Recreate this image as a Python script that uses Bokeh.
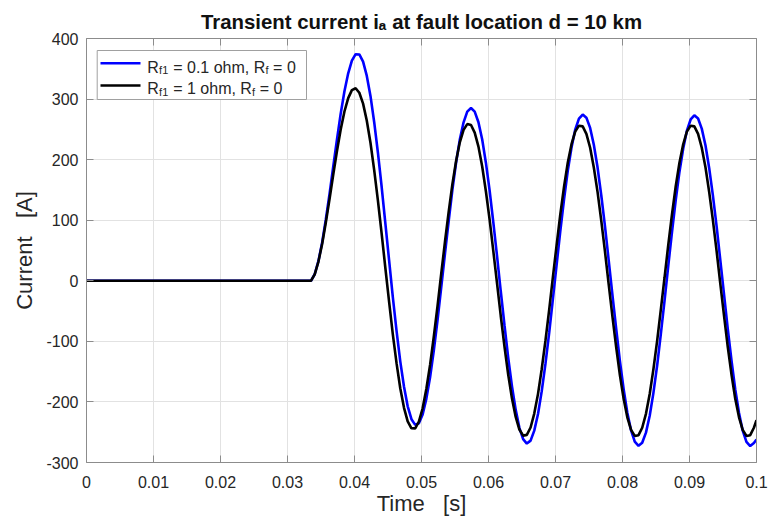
from bokeh.plotting import figure
from bokeh.models import LinearAxis, FixedTicker, Label, BoxAnnotation, Range1d
from bokeh.embed import file_html
from bokeh.resources import INLINE

# ---------------- data ----------------
time_s = [0.0,
    0.03350, 0.03406, 0.03461, 0.03517, 0.03572, 0.03628, 0.03683, 0.03739, 0.03794,
    0.03850, 0.03906, 0.03961, 0.04017, 0.04072, 0.04128, 0.04183, 0.04239, 0.04294,
    0.04350, 0.04406, 0.04461, 0.04517, 0.04572, 0.04628, 0.04683, 0.04739, 0.04794,
    0.04850, 0.04906, 0.04961, 0.05017, 0.05072, 0.05128, 0.05183, 0.05239, 0.05294,
    0.05350, 0.05406, 0.05461, 0.05517, 0.05572, 0.05628, 0.05683, 0.05739, 0.05794,
    0.05850, 0.05906, 0.05961, 0.06017, 0.06072, 0.06128, 0.06183, 0.06239, 0.06294,
    0.06350, 0.06406, 0.06461, 0.06517, 0.06572, 0.06628, 0.06683, 0.06739, 0.06794,
    0.06850, 0.06906, 0.06961, 0.07017, 0.07072, 0.07128, 0.07183, 0.07239, 0.07294,
    0.07350, 0.07406, 0.07461, 0.07517, 0.07572, 0.07628, 0.07683, 0.07739, 0.07794,
    0.07850, 0.07906, 0.07961, 0.08017, 0.08072, 0.08128, 0.08183, 0.08239, 0.08294,
    0.08350, 0.08406, 0.08461, 0.08517, 0.08572, 0.08628, 0.08683, 0.08739, 0.08794,
    0.08850, 0.08906, 0.08961, 0.09017, 0.09072, 0.09128, 0.09183, 0.09239, 0.09294,
    0.09350, 0.09406, 0.09461, 0.09517, 0.09572, 0.09628, 0.09683, 0.09739, 0.09794,
    0.09850, 0.09906, 0.09961,
    0.1]

# R_f1 = 0.1 ohm, R_f = 0  (blue)
current_rf01 = [0.0,
    0.0, 10.8, 32.4, 63.2, 101.2, 143.9, 189.0, 233.8, 275.9, 312.9,
    342.6, 363.5, 374.1, 373.7, 361.7, 338.6, 304.8, 261.8, 211.0, 154.4,
    94.3, 33.1, -26.8, -83.0, -133.0, -175.0, -207.2, -228.5, -237.9, -235.2,
    -220.6, -194.9, -159.3, -115.5, -65.4, -11.4, 44.3, 98.9, 150.2, 195.7,
    233.4, 261.6, 279.2, 285.2, 279.3, 261.7, 233.2, 195.0, 148.8, 96.4,
    40.3, -17.3, -73.8, -126.8, -173.9, -213.1, -242.7, -261.5, -268.7, -263.9,
    -247.4, -219.9, -182.6, -137.2, -85.6, -30.2, 26.7, 82.6, 134.9, 181.5,
    220.1, 249.3, 267.7, 274.5, 269.3, 252.4, 224.5, 186.9, 141.2, 89.4,
    33.7, -23.5, -79.5, -132.1, -178.8, -217.7, -247.0, -265.6, -272.5, -267.4,
    -250.7, -222.9, -185.4, -139.9, -88.1, -32.5, 24.6, 80.6, 133.0, 179.7,
    218.5, 247.8, 266.3, 273.2, 268.0, 251.2, 223.4, 185.9, 140.3, 88.5,
    32.9, -24.2, -80.2, -132.7, -179.4, -218.2, -247.5, -266.0, -272.9, -267.8,
    -262.0]

# R_f1 = 1 ohm, R_f = 0  (black)
current_rf1 = [0.0,
    0.0, 10.5, 31.4, 60.7, 96.1, 135.2, 175.5, 214.5, 249.9, 279.5,
    301.6, 314.8, 317.8, 310.4, 292.5, 264.5, 227.4, 182.6, 131.9, 77.1,
    20.7, -35.3, -88.4, -136.4, -177.5, -209.8, -232.2, -243.5, -243.6, -232.4,
    -210.4, -178.7, -138.9, -92.5, -41.7, 11.2, 64.0, 114.2, 159.6, 198.3,
    228.6, 249.1, 258.7, 257.2, 244.7, 221.5, 188.7, 147.8, 100.6, 48.9,
    -4.7, -58.1, -108.9, -154.9, -194.1, -224.8, -245.6, -255.6, -254.4, -242.2,
    -219.2, -186.7, -146.0, -98.9, -47.5, 6.0, 59.3, 109.9, 155.8, 194.9,
    225.5, 246.2, 256.1, 254.9, 242.6, 219.6, 187.0, 146.3, 99.2, 47.7,
    -5.8, -59.1, -109.8, -155.7, -194.8, -225.4, -246.2, -256.1, -254.9, -242.6,
    -219.6, -187.0, -146.3, -99.2, -47.7, 5.8, 59.1, 109.8, 155.7, 194.8,
    225.4, 246.2, 256.1, 254.9, 242.6, 219.6, 187.0, 146.3, 99.2, 47.7,
    -5.8, -59.1, -109.8, -155.7, -194.8, -225.4, -246.2, -256.1, -254.9, -242.6,
    -230.0]

x_ticks = [0, 0.01, 0.02, 0.03, 0.04, 0.05, 0.06, 0.07, 0.08, 0.09, 0.1]
x_tick_labels = ["0", "0.01", "0.02", "0.03", "0.04", "0.05", "0.06", "0.07", "0.08", "0.09", "0.1"]
y_ticks = [-300, -200, -100, 0, 100, 200, 300, 400]
y_tick_labels = ["-300", "-200", "-100", "0", "100", "200", "300", "400"]

title_text = "Transient current i\u2090 at fault location d = 10 km"
x_label = "Time\u00a0\u00a0\u00a0[s]"
y_label = "Current\u00a0\u00a0\u00a0[A]"
legend_rows = [
    ["R", "f1", "= 0.1 ohm, R", "f", "= 0"],
    ["R", "f1", "= 1 ohm, R", "f", "= 0"],
]
series_colors = ["#0000ff", "#000000"]

# ---------------- layout helpers (page pixel -> data position) ----------------
W, H = 768, 519
X0, X1 = 0.0, 0.1
Y0, Y1 = -300.0, 400.0
FL, FR, FT, FB = 86.0, 756.0, 38.0, 462.0   # frame edges in page pixels


def X(px):
    return X0 + (px - FL) / (FR - FL) * (X1 - X0)


def Y(py):
    return Y1 - (py - FT) / (FB - FT) * (Y1 - Y0)


FONT = "Liberation Sans"
AX_COL = "#8c8c8c"
TXT_COL = "#262626"

p = figure(width=W, height=H, x_range=Range1d(X0, X1), y_range=Range1d(Y0, Y1),
           output_backend="svg", toolbar_location=None,
           min_border_left=int(FL), min_border_right=int(W - FR),
           min_border_top=int(FT), min_border_bottom=int(H - FB))
p.background_fill_color = "white"
p.border_fill_color = "white"
p.outline_line_color = None

p.title.text = title_text
p.title.text_font = FONT
p.title.text_font_size = "20.4px"
p.title.text_font_style = "bold"
p.title.text_color = "#111111"
p.title.align = "center"
p.title.standoff = 12


def style_axis(ax, show_labels):
    ax.axis_line_color = AX_COL
    ax.axis_line_width = 1
    ax.major_tick_line_color = AX_COL
    ax.major_tick_in = 7
    ax.major_tick_out = 0
    ax.minor_tick_in = 0
    ax.minor_tick_out = 0
    ax.minor_tick_line_color = None
    if show_labels:
        ax.major_label_text_font = FONT
        ax.major_label_text_font_size = "16px"
        ax.major_label_text_color = TXT_COL
        ax.axis_label_text_font = FONT
        ax.axis_label_text_font_size = "22px"
        ax.axis_label_text_font_style = "normal"
        ax.axis_label_text_color = TXT_COL
    else:
        ax.major_label_text_font_size = "0px"
        ax.major_label_standoff = 0


xax = p.xaxis[0]
xax.ticker = FixedTicker(ticks=x_ticks)
xax.major_label_overrides = dict(zip(x_ticks, x_tick_labels))
style_axis(xax, True)
xax.major_label_standoff = 13
xax.axis_label = x_label
xax.axis_label_standoff = 0

yax = p.yaxis[0]
yax.ticker = FixedTicker(ticks=y_ticks)
yax.major_label_overrides = dict(zip(y_ticks, y_tick_labels))
style_axis(yax, True)
yax.major_label_standoff = 8
yax.axis_label = y_label
yax.axis_label_standoff = 6

top_ax = LinearAxis(ticker=FixedTicker(ticks=x_ticks),
                    major_label_overrides={t: "" for t in x_ticks})
style_axis(top_ax, False)
p.add_layout(top_ax, "above")

right_ax = LinearAxis(ticker=FixedTicker(ticks=y_ticks),
                      major_label_overrides={t: "" for t in y_ticks})
style_axis(right_ax, False)
p.add_layout(right_ax, "right")

p.xgrid.ticker = FixedTicker(ticks=x_ticks)
p.ygrid.ticker = FixedTicker(ticks=y_ticks)
for g in (p.xgrid, p.ygrid):
    g.grid_line_color = "#e2e2e2"
    g.grid_line_width = 1

# ---------------- data lines ----------------
p.line(time_s, current_rf01, line_color=series_colors[0], line_width=2.6)
p.line(time_s, current_rf1, line_color=series_colors[1], line_width=2.6)

# ---------------- legend (inside the frame) ----------------
p.add_layout(BoxAnnotation(left=X(96.7), right=X(306), top=Y(50), bottom=Y(99),
                           fill_color="white", fill_alpha=1.0,
                           line_color="#a0a0a0", line_alpha=1.0, line_width=1))
row_line_y = [62.7, 85.0]
row_base_y = [66.7, 88.3]
row_piece_x = [[146.7, 158.6, 172.7, 265.0, 272.6],
               [146.7, 158.6, 172.7, 251.6, 259.3]]
for r, row in enumerate(legend_rows):
    ly = row_line_y[r]
    p.add_layout(BoxAnnotation(left=X(100), right=X(140), top=Y(ly - 1.3), bottom=Y(ly + 1.3),
                               fill_color=series_colors[r], fill_alpha=1.0, line_color=None))
    for k, piece in enumerate(row):
        is_sub = k in (1, 3)
        p.add_layout(Label(x=X(row_piece_x[r][k]), y=Y(row_base_y[r] + (2.8 if is_sub else 0)),
                           text=piece, text_font=FONT,
                           text_font_size="11px" if is_sub else "16px",
                           text_color=TXT_COL, text_baseline="alphabetic", text_align="left"))

open("out.html", "w").write(file_html(p, INLINE))
